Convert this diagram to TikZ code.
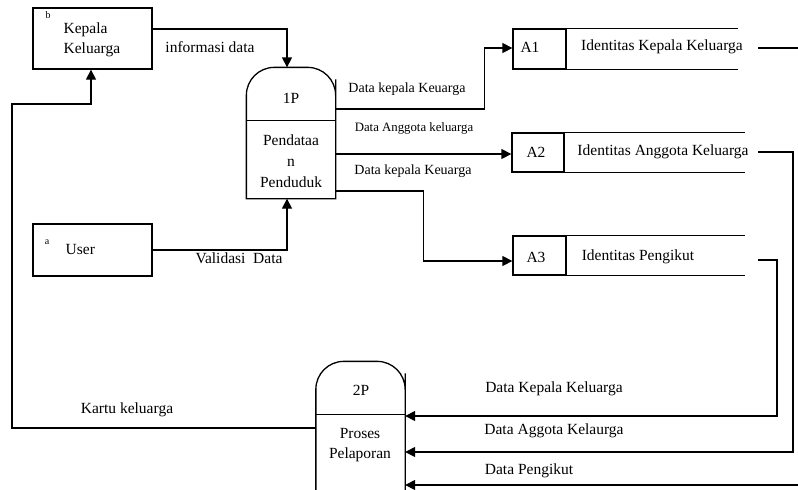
\documentclass[tikz,border=0pt]{standalone}
\usepackage{fontspec}
\setmainfont{Liberation Serif}
\usetikzlibrary{arrows.meta}
\begin{document}
\begin{tikzpicture}[x=1pt,y=-1pt, line width=1.3pt,
  arr/.style={-{Triangle[length=10pt,width=10pt]}},
  txt/.style={inner sep=0pt, font=\fontsize{15.5}{20}\selectfont},
  lblsmall/.style={inner sep=0pt, font=\fontsize{14}{16}\selectfont},
  lbltiny/.style={inner sep=0pt, font=\fontsize{12.8}{15}\selectfont},
  supr/.style={inner sep=0pt, font=\fontsize{10}{11}\selectfont},
  ent/.style={draw, minimum width=119pt, inner sep=0pt},
  procbox/.style={minimum width=88pt, inner sep=0pt},
  storebox/.style={draw, inner sep=0pt}]
\useasboundingbox (0,0) rectangle (798,490);
\clip (0,0) rectangle (798,490);

% external entities
\node[ent, minimum height=61pt] (kk) at (92.5,38.5) {};
\node[supr] (kkb) at (48,15) {b};
\node[txt, align=left, anchor=west] (kkt) at (63,40) {Kepala\\Keluarga};
\node[ent, minimum height=52pt] (user) at (92.5,250) {};
\node[supr] (usera) at (47,242) {a};
\node[txt, anchor=west] (usert) at (65,249) {User};

% process 1P
\node[procbox, minimum height=130pt] (p1) at (291,133) {};
\draw (p1.south west) -- ([yshift=-40pt]p1.north west) [rounded corners=28pt] -- (p1.north west) -- (p1.north east) -- ([yshift=-40pt]p1.north east) [sharp corners] -- (p1.south east) -- cycle;
\draw ([yshift=-53pt]p1.north west) -- ([yshift=-53pt]p1.north east);
\node[txt] (p1id) at (291,98) {1P};
\node[txt, align=center, font=\fontsize{15.5}{21}\selectfont] (p1t) at (291,161) {Pendataa\\n\\Penduduk};

% process 2P
\node[procbox, minimum height=160pt] (p2) at (360.5,442) {};
\draw (p2.south west) -- ([yshift=-40pt]p2.north west) [rounded corners=28pt] -- (p2.north west) -- (p2.north east) -- ([yshift=-40pt]p2.north east) [sharp corners] -- (p2.south east) -- cycle;
\draw ([yshift=-53pt]p2.north west) -- ([yshift=-53pt]p2.north east);
\node[txt] (p2id) at (361,390) {2P};
\node[txt, align=center] (p2t) at (360,445) {Proses\\Pelaporan};

% data stores
\node[storebox, minimum width=53pt, minimum height=40pt] (a1box) at (539.5,49) {};
\draw (a1box.north east) -- ++(171,0);
\draw (a1box.south east) -- ++(171,0);
\node[txt] (a1id) at (530,47) {A1};
\node[txt] (a1t) at (662,47) {Identitas Kepala Keluarga};

\node[storebox, minimum width=52pt, minimum height=39pt] (a2box) at (538,152.5) {};
\draw (a2box.north east) -- ++(180,0);
\draw (a2box.south east) -- ++(180,0);
\node[txt] (a2id) at (536,152) {A2};
\node[txt] (a2t) at (663,152) {Identitas Anggota Keluarga};

\node[storebox, minimum width=53pt, minimum height=39pt] (a3box) at (539.5,255.5) {};
\draw (a3box.north east) -- ++(178,0);
\draw (a3box.south east) -- ++(178,0);
\node[txt] (a3id) at (536,257) {A3};
\node[txt] (a3t) at (638,257) {Identitas Pengikut};

\coordinate (a1out) at (758,48);
\coordinate (a2out) at (758,152);
\coordinate (a3out) at (758,260);

% connectors
\draw[arr] ([yshift=9.5pt]kk.east) -| ([xshift=-4pt]p1.north);
\node[txt] (l1) at (210,47) {informasi data};

\draw[arr] (user.east) -| ([xshift=-4pt]p1.south);
\node[txt] (l2) at (239,258) {Validasi~~Data};

\draw[arr] ([yshift=24pt]p1.east) -- ++(149,0) |- ([yshift=1pt]a1box.west);
\node[lblsmall] (l3) at (407,89) {Data kepala Keuarga};

\draw[arr] ([yshift=-21pt]p1.east) -- ([yshift=-1.5pt]a2box.west);
\node[lbltiny] (l4) at (414,128) {Data Anggota keluarga};

\draw[arr] ([yshift=-58pt]p1.east) -- ++(88,0) |- ([yshift=-5.5pt]a3box.west);
\node[lblsmall] (l5) at (413,171) {Data kepala Keuarga};

\draw[arr] (a3out) -- ++(19,0) |- ([yshift=26pt]p2.east);
\node[txt] (l6) at (554,389) {Data Kepala Keluarga};

\draw[arr] (a2out) -- ++(35,0) |- ([yshift=-10pt]p2.east);
\node[txt] (l7) at (554,431) {Data Aggota Kelaurga};

\draw[arr] (a1out) -- ++(50,0) |- ([yshift=-43pt]p2.east);
\node[txt] (l8) at (529,471) {Data Pengikut};

\draw[arr] ([yshift=14pt]p2.west) -- ++(-304,0) -- ++(0,-324) -| ([xshift=-1.5pt]kk.south);
\node[txt] (l9) at (127,410) {Kartu keluarga};
\end{tikzpicture}
\end{document}
